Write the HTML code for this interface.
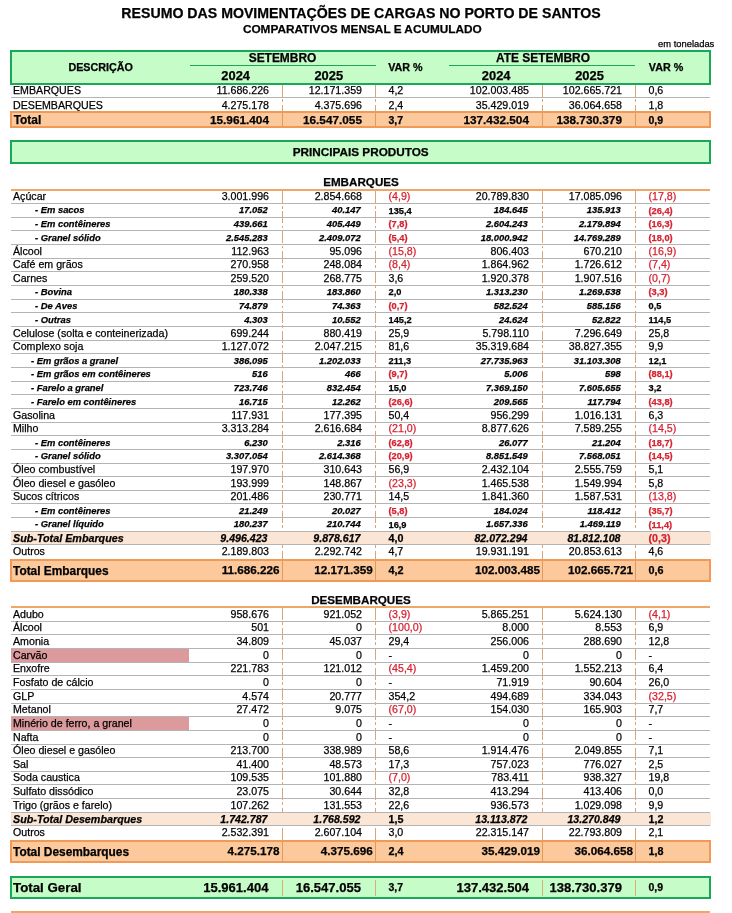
<!DOCTYPE html>
<html><head><meta charset="utf-8"><title>Resumo das Movimentações de Cargas no Porto de Santos</title>
<style>
html,body{margin:0;padding:0;background:#fff;}
body{width:732px;height:913px;position:relative;overflow:hidden;font-family:"Liberation Sans",sans-serif;color:#000;}
#pg{position:absolute;left:0;top:0;width:732px;height:913px;will-change:transform;opacity:0.999;}
.t{position:absolute;white-space:nowrap;-webkit-text-stroke:0.25px;}

.hl{position:absolute;}
.vs{position:absolute;width:1px;background:repeating-linear-gradient(to bottom,#dba57c 0,#dba57c 12px,transparent 12px,transparent 14.5px,#dba57c 14.5px,#dba57c 17.5px,transparent 17.5px,transparent 20px);}
.vs.vo{background:#e2995c;}
.vs.vg{background:#d6b070;}
.box{position:absolute;box-sizing:border-box;}
.box.green{border:2px solid #1aa858;background:#c6fcc8;}
.box.orange{border:2px solid #f29a55;background:#fcc99c;}
.gl{position:absolute;height:1px;background:#1aa858;}
.pink{position:absolute;background:#dc9a9c;}
.stbg{position:absolute;background:#fbe6d6;}
.red{color:#d62230;}
.t1{font-weight:bold;font-size:14.15px;}
.t2{font-weight:bold;font-size:11.8px;}
.et{font-size:9.4px;}
.hd{font-weight:bold;font-size:10.75px;}
.hs{font-weight:bold;font-size:11.95px;}
.hy{font-weight:bold;font-size:12.9px;}
.pp{font-weight:bold;font-size:11.76px;}
.sec{font-weight:bold;font-size:11.65px;}
.m{font-size:10.65px;}
.s{font-weight:bold;font-style:italic;font-size:9.4px;}
.sv{font-weight:bold;font-size:9.25px;}
.st{font-weight:bold;font-style:italic;font-size:10.6px;}
.stl{font-weight:bold;font-style:italic;font-size:10.75px;}
.stv{font-weight:bold;font-size:10.75px;}
.tot{font-weight:bold;font-size:11.7px;}
.totv{font-weight:bold;font-size:10.8px;}
.tg{font-weight:bold;font-size:13.05px;}
.tgv{font-weight:bold;font-size:10.5px;}
.totl{font-weight:bold;font-size:11.9px;}
.tgl{font-weight:bold;font-size:13.3px;}
.tot0l{font-weight:bold;font-size:11.9px;}
.tot0{font-weight:bold;font-size:11.8px;}
.tot0v{font-weight:bold;font-size:10.5px;}
</style></head>
<body>
<div id="pg">
<div class="t t1" style="left:211.00px;width:300px;text-align:center;top:4.00px;height:18.00px;line-height:18.00px;width:700px;left:11.00px;">RESUMO DAS MOVIMENTAÇÕES DE CARGAS NO PORTO DE SANTOS</div>
<div class="t t2" style="left:212.30px;width:300px;text-align:center;top:21.70px;height:14.00px;line-height:14.00px;width:700px;left:12.30px;">COMPARATIVOS MENSAL E ACUMULADO</div>
<div class="t et" style="right:17.70px;top:39.00px;height:10.00px;line-height:10.00px;">em toneladas</div>
<div class="box green" style="left:10px;top:50.00px;width:701px;height:34.50px"></div>
<div class="t hd" style="left:-49.30px;width:300px;text-align:center;top:50.00px;height:34.50px;line-height:34.50px;">DESCRIÇÃO</div>
<div class="t hs" style="left:132.50px;width:300px;text-align:center;top:50.70px;height:15.00px;line-height:15.00px;">SETEMBRO</div>
<div class="t hs" style="left:393.00px;width:300px;text-align:center;top:50.70px;height:15.00px;line-height:15.00px;">ATE SETEMBRO</div>
<div class="t hy" style="left:85.70px;width:300px;text-align:center;top:67.70px;height:15.00px;line-height:15.00px;">2024</div>
<div class="t hy" style="left:178.80px;width:300px;text-align:center;top:67.70px;height:15.00px;line-height:15.00px;">2025</div>
<div class="t hy" style="left:346.20px;width:300px;text-align:center;top:67.70px;height:15.00px;line-height:15.00px;">2024</div>
<div class="t hy" style="left:439.50px;width:300px;text-align:center;top:67.70px;height:15.00px;line-height:15.00px;">2025</div>
<div class="t hd" style="left:255.40px;width:300px;text-align:center;top:50.00px;height:34.50px;line-height:34.50px;">VAR %</div>
<div class="t hd" style="left:516.00px;width:300px;text-align:center;top:50.00px;height:34.50px;line-height:34.50px;">VAR %</div>
<div class="gl" style="left:189.5px;top:65.2px;width:186.0px"></div>
<div class="gl" style="left:449px;top:65.2px;width:186px"></div>
<div class="vs " style="left:281.5px;top:84.50px;height:26.00px"></div>
<div class="vs " style="left:374.6px;top:84.50px;height:26.00px"></div>
<div class="vs " style="left:542.3px;top:84.50px;height:26.00px"></div>
<div class="vs " style="left:634.7px;top:84.50px;height:26.00px"></div>
<div class="t m" style="left:13.0px;top:83.65px;height:13.50px;line-height:13.50px;">EMBARQUES</div>
<div class="t m" style="right:463.00px;top:83.65px;height:13.50px;line-height:13.50px;">11.686.226</div>
<div class="t m" style="right:370.00px;top:83.65px;height:13.50px;line-height:13.50px;">12.171.359</div>
<div class="t m" style="right:203.00px;top:83.65px;height:13.50px;line-height:13.50px;">102.003.485</div>
<div class="t m" style="right:110.00px;top:83.65px;height:13.50px;line-height:13.50px;">102.665.721</div>
<div class="t m" style="left:388.5px;top:83.65px;height:13.50px;line-height:13.50px;">4,2</div>
<div class="t m" style="left:648.5px;top:83.65px;height:13.50px;line-height:13.50px;">0,6</div>
<div class="hl" style="left:11px;top:97.00px;width:699px;height:1px;background:#b4b4b4"></div>
<div class="t m" style="left:13.0px;top:98.95px;height:13.50px;line-height:13.50px;">DESEMBARQUES</div>
<div class="t m" style="right:463.00px;top:98.95px;height:13.50px;line-height:13.50px;">4.275.178</div>
<div class="t m" style="right:370.00px;top:98.95px;height:13.50px;line-height:13.50px;">4.375.696</div>
<div class="t m" style="right:203.00px;top:98.95px;height:13.50px;line-height:13.50px;">35.429.019</div>
<div class="t m" style="right:110.00px;top:98.95px;height:13.50px;line-height:13.50px;">36.064.658</div>
<div class="t m" style="left:388.5px;top:98.95px;height:13.50px;line-height:13.50px;">2,4</div>
<div class="t m" style="left:648.5px;top:98.95px;height:13.50px;line-height:13.50px;">1,8</div>
<div class="box orange" style="left:10px;top:110.50px;width:701px;height:17.50px"></div>
<div class="t tot0l" style="left:13.7px;top:111.60px;height:17.50px;line-height:17.50px;">Total</div>
<div class="t tot0" style="right:463.00px;top:112.00px;height:17.50px;line-height:17.50px;">15.961.404</div>
<div class="t tot0" style="right:370.00px;top:112.00px;height:17.50px;line-height:17.50px;">16.547.055</div>
<div class="t tot0" style="right:203.00px;top:112.00px;height:17.50px;line-height:17.50px;">137.432.504</div>
<div class="t tot0" style="right:110.00px;top:112.00px;height:17.50px;line-height:17.50px;">138.730.379</div>
<div class="t tot0v" style="left:388.5px;top:111.70px;height:17.50px;line-height:17.50px;">3,7</div>
<div class="t tot0v" style="left:648.5px;top:111.70px;height:17.50px;line-height:17.50px;">0,9</div>
<div class="vs vo" style="left:281.5px;top:112.50px;height:13.50px"></div>
<div class="vs vo" style="left:374.6px;top:112.50px;height:13.50px"></div>
<div class="vs vo" style="left:542.3px;top:112.50px;height:13.50px"></div>
<div class="vs vo" style="left:634.7px;top:112.50px;height:13.50px"></div>
<div class="box green" style="left:10px;top:140.00px;width:701px;height:23.50px"></div>
<div class="t pp" style="left:210.70px;width:300px;text-align:center;top:140.00px;height:23.50px;line-height:23.50px;">PRINCIPAIS PRODUTOS</div>
<div class="t sec" style="left:211.00px;width:300px;text-align:center;top:175.10px;height:14.00px;line-height:14.00px;">EMBARQUES</div>
<div class="hl" style="left:11px;top:189.00px;width:699px;height:2px;background:#f0a664"></div>
<div class="vs " style="left:281.5px;top:191.00px;height:367.55px"></div>
<div class="vs " style="left:374.6px;top:191.00px;height:367.55px"></div>
<div class="vs " style="left:542.3px;top:191.00px;height:367.55px"></div>
<div class="vs " style="left:634.7px;top:191.00px;height:367.55px"></div>
<div class="t m" style="left:13.0px;top:190.15px;height:13.65px;line-height:13.65px;">Açúcar</div>
<div class="t m" style="right:463.00px;top:190.15px;height:13.65px;line-height:13.65px;">3.001.996</div>
<div class="t m" style="right:370.00px;top:190.15px;height:13.65px;line-height:13.65px;">2.854.668</div>
<div class="t m" style="right:203.00px;top:190.15px;height:13.65px;line-height:13.65px;">20.789.830</div>
<div class="t m" style="right:110.00px;top:190.15px;height:13.65px;line-height:13.65px;">17.085.096</div>
<div class="t m red" style="left:388.5px;top:190.15px;height:13.65px;line-height:13.65px;">(4,9)</div>
<div class="t m red" style="left:648.5px;top:190.15px;height:13.65px;line-height:13.65px;">(17,8)</div>
<div class="hl" style="left:11px;top:203.15px;width:699px;height:1px;background:#b4b4b4"></div>
<div class="t s" style="left:35px;top:203.45px;height:13.65px;line-height:13.65px;">-&nbsp;Em sacos</div>
<div class="t s" style="right:464.30px;top:203.45px;height:13.65px;line-height:13.65px;">17.052</div>
<div class="t s" style="right:371.30px;top:203.45px;height:13.65px;line-height:13.65px;">40.147</div>
<div class="t s" style="right:204.30px;top:203.45px;height:13.65px;line-height:13.65px;">184.645</div>
<div class="t s" style="right:111.30px;top:203.45px;height:13.65px;line-height:13.65px;">135.913</div>
<div class="t sv" style="left:388.5px;top:204.55px;height:13.65px;line-height:13.65px;">135,4</div>
<div class="t sv red" style="left:648.5px;top:204.55px;height:13.65px;line-height:13.65px;">(26,4)</div>
<div class="hl" style="left:11px;top:216.80px;width:699px;height:1px;background:#b4b4b4"></div>
<div class="t s" style="left:35px;top:217.10px;height:13.65px;line-height:13.65px;">-&nbsp;Em contêineres</div>
<div class="t s" style="right:464.30px;top:217.10px;height:13.65px;line-height:13.65px;">439.661</div>
<div class="t s" style="right:371.30px;top:217.10px;height:13.65px;line-height:13.65px;">405.449</div>
<div class="t s" style="right:204.30px;top:217.10px;height:13.65px;line-height:13.65px;">2.604.243</div>
<div class="t s" style="right:111.30px;top:217.10px;height:13.65px;line-height:13.65px;">2.179.894</div>
<div class="t sv red" style="left:388.5px;top:218.20px;height:13.65px;line-height:13.65px;">(7,8)</div>
<div class="t sv red" style="left:648.5px;top:218.20px;height:13.65px;line-height:13.65px;">(16,3)</div>
<div class="hl" style="left:11px;top:230.45px;width:699px;height:1px;background:#b4b4b4"></div>
<div class="t s" style="left:35px;top:230.75px;height:13.65px;line-height:13.65px;">-&nbsp;Granel sólido</div>
<div class="t s" style="right:464.30px;top:230.75px;height:13.65px;line-height:13.65px;">2.545.283</div>
<div class="t s" style="right:371.30px;top:230.75px;height:13.65px;line-height:13.65px;">2.409.072</div>
<div class="t s" style="right:204.30px;top:230.75px;height:13.65px;line-height:13.65px;">18.000.942</div>
<div class="t s" style="right:111.30px;top:230.75px;height:13.65px;line-height:13.65px;">14.769.289</div>
<div class="t sv red" style="left:388.5px;top:231.85px;height:13.65px;line-height:13.65px;">(5,4)</div>
<div class="t sv red" style="left:648.5px;top:231.85px;height:13.65px;line-height:13.65px;">(18,0)</div>
<div class="hl" style="left:11px;top:244.10px;width:699px;height:1px;background:#b4b4b4"></div>
<div class="t m" style="left:13.0px;top:244.75px;height:13.65px;line-height:13.65px;">Álcool</div>
<div class="t m" style="right:463.00px;top:244.75px;height:13.65px;line-height:13.65px;">112.963</div>
<div class="t m" style="right:370.00px;top:244.75px;height:13.65px;line-height:13.65px;">95.096</div>
<div class="t m" style="right:203.00px;top:244.75px;height:13.65px;line-height:13.65px;">806.403</div>
<div class="t m" style="right:110.00px;top:244.75px;height:13.65px;line-height:13.65px;">670.210</div>
<div class="t m red" style="left:388.5px;top:244.75px;height:13.65px;line-height:13.65px;">(15,8)</div>
<div class="t m red" style="left:648.5px;top:244.75px;height:13.65px;line-height:13.65px;">(16,9)</div>
<div class="hl" style="left:11px;top:257.75px;width:699px;height:1px;background:#b4b4b4"></div>
<div class="t m" style="left:13.0px;top:258.40px;height:13.65px;line-height:13.65px;">Café em grãos</div>
<div class="t m" style="right:463.00px;top:258.40px;height:13.65px;line-height:13.65px;">270.958</div>
<div class="t m" style="right:370.00px;top:258.40px;height:13.65px;line-height:13.65px;">248.084</div>
<div class="t m" style="right:203.00px;top:258.40px;height:13.65px;line-height:13.65px;">1.864.962</div>
<div class="t m" style="right:110.00px;top:258.40px;height:13.65px;line-height:13.65px;">1.726.612</div>
<div class="t m red" style="left:388.5px;top:258.40px;height:13.65px;line-height:13.65px;">(8,4)</div>
<div class="t m red" style="left:648.5px;top:258.40px;height:13.65px;line-height:13.65px;">(7,4)</div>
<div class="hl" style="left:11px;top:271.40px;width:699px;height:1px;background:#b4b4b4"></div>
<div class="t m" style="left:13.0px;top:272.05px;height:13.65px;line-height:13.65px;">Carnes</div>
<div class="t m" style="right:463.00px;top:272.05px;height:13.65px;line-height:13.65px;">259.520</div>
<div class="t m" style="right:370.00px;top:272.05px;height:13.65px;line-height:13.65px;">268.775</div>
<div class="t m" style="right:203.00px;top:272.05px;height:13.65px;line-height:13.65px;">1.920.378</div>
<div class="t m" style="right:110.00px;top:272.05px;height:13.65px;line-height:13.65px;">1.907.516</div>
<div class="t m" style="left:388.5px;top:272.05px;height:13.65px;line-height:13.65px;">3,6</div>
<div class="t m red" style="left:648.5px;top:272.05px;height:13.65px;line-height:13.65px;">(0,7)</div>
<div class="hl" style="left:11px;top:285.05px;width:699px;height:1px;background:#b4b4b4"></div>
<div class="t s" style="left:35px;top:285.35px;height:13.65px;line-height:13.65px;">-&nbsp;Bovina</div>
<div class="t s" style="right:464.30px;top:285.35px;height:13.65px;line-height:13.65px;">180.338</div>
<div class="t s" style="right:371.30px;top:285.35px;height:13.65px;line-height:13.65px;">183.860</div>
<div class="t s" style="right:204.30px;top:285.35px;height:13.65px;line-height:13.65px;">1.313.230</div>
<div class="t s" style="right:111.30px;top:285.35px;height:13.65px;line-height:13.65px;">1.269.538</div>
<div class="t sv" style="left:388.5px;top:286.45px;height:13.65px;line-height:13.65px;">2,0</div>
<div class="t sv red" style="left:648.5px;top:286.45px;height:13.65px;line-height:13.65px;">(3,3)</div>
<div class="hl" style="left:11px;top:298.70px;width:699px;height:1px;background:#b4b4b4"></div>
<div class="t s" style="left:35px;top:299.00px;height:13.65px;line-height:13.65px;">-&nbsp;De Aves</div>
<div class="t s" style="right:464.30px;top:299.00px;height:13.65px;line-height:13.65px;">74.879</div>
<div class="t s" style="right:371.30px;top:299.00px;height:13.65px;line-height:13.65px;">74.363</div>
<div class="t s" style="right:204.30px;top:299.00px;height:13.65px;line-height:13.65px;">582.524</div>
<div class="t s" style="right:111.30px;top:299.00px;height:13.65px;line-height:13.65px;">585.156</div>
<div class="t sv red" style="left:388.5px;top:300.10px;height:13.65px;line-height:13.65px;">(0,7)</div>
<div class="t sv" style="left:648.5px;top:300.10px;height:13.65px;line-height:13.65px;">0,5</div>
<div class="hl" style="left:11px;top:312.35px;width:699px;height:1px;background:#b4b4b4"></div>
<div class="t s" style="left:35px;top:312.65px;height:13.65px;line-height:13.65px;">-&nbsp;Outras</div>
<div class="t s" style="right:464.30px;top:312.65px;height:13.65px;line-height:13.65px;">4.303</div>
<div class="t s" style="right:371.30px;top:312.65px;height:13.65px;line-height:13.65px;">10.552</div>
<div class="t s" style="right:204.30px;top:312.65px;height:13.65px;line-height:13.65px;">24.624</div>
<div class="t s" style="right:111.30px;top:312.65px;height:13.65px;line-height:13.65px;">52.822</div>
<div class="t sv" style="left:388.5px;top:313.75px;height:13.65px;line-height:13.65px;">145,2</div>
<div class="t sv" style="left:648.5px;top:313.75px;height:13.65px;line-height:13.65px;">114,5</div>
<div class="hl" style="left:11px;top:326.00px;width:699px;height:1px;background:#b4b4b4"></div>
<div class="t m" style="left:13.0px;top:326.65px;height:13.65px;line-height:13.65px;">Celulose (solta e conteinerizada)</div>
<div class="t m" style="right:463.00px;top:326.65px;height:13.65px;line-height:13.65px;">699.244</div>
<div class="t m" style="right:370.00px;top:326.65px;height:13.65px;line-height:13.65px;">880.419</div>
<div class="t m" style="right:203.00px;top:326.65px;height:13.65px;line-height:13.65px;">5.798.110</div>
<div class="t m" style="right:110.00px;top:326.65px;height:13.65px;line-height:13.65px;">7.296.649</div>
<div class="t m" style="left:388.5px;top:326.65px;height:13.65px;line-height:13.65px;">25,9</div>
<div class="t m" style="left:648.5px;top:326.65px;height:13.65px;line-height:13.65px;">25,8</div>
<div class="hl" style="left:11px;top:339.65px;width:699px;height:1px;background:#b4b4b4"></div>
<div class="t m" style="left:13.0px;top:340.30px;height:13.65px;line-height:13.65px;">Complexo soja</div>
<div class="t m" style="right:463.00px;top:340.30px;height:13.65px;line-height:13.65px;">1.127.072</div>
<div class="t m" style="right:370.00px;top:340.30px;height:13.65px;line-height:13.65px;">2.047.215</div>
<div class="t m" style="right:203.00px;top:340.30px;height:13.65px;line-height:13.65px;">35.319.684</div>
<div class="t m" style="right:110.00px;top:340.30px;height:13.65px;line-height:13.65px;">38.827.355</div>
<div class="t m" style="left:388.5px;top:340.30px;height:13.65px;line-height:13.65px;">81,6</div>
<div class="t m" style="left:648.5px;top:340.30px;height:13.65px;line-height:13.65px;">9,9</div>
<div class="hl" style="left:11px;top:353.30px;width:699px;height:1px;background:#b4b4b4"></div>
<div class="t s" style="left:31px;top:353.60px;height:13.65px;line-height:13.65px;">-&nbsp;Em grãos a granel</div>
<div class="t s" style="right:464.30px;top:353.60px;height:13.65px;line-height:13.65px;">386.095</div>
<div class="t s" style="right:371.30px;top:353.60px;height:13.65px;line-height:13.65px;">1.202.033</div>
<div class="t s" style="right:204.30px;top:353.60px;height:13.65px;line-height:13.65px;">27.735.963</div>
<div class="t s" style="right:111.30px;top:353.60px;height:13.65px;line-height:13.65px;">31.103.308</div>
<div class="t sv" style="left:388.5px;top:354.70px;height:13.65px;line-height:13.65px;">211,3</div>
<div class="t sv" style="left:648.5px;top:354.70px;height:13.65px;line-height:13.65px;">12,1</div>
<div class="hl" style="left:11px;top:366.95px;width:699px;height:1px;background:#b4b4b4"></div>
<div class="t s" style="left:31px;top:367.25px;height:13.65px;line-height:13.65px;">-&nbsp;Em grãos em contêineres</div>
<div class="t s" style="right:464.30px;top:367.25px;height:13.65px;line-height:13.65px;">516</div>
<div class="t s" style="right:371.30px;top:367.25px;height:13.65px;line-height:13.65px;">466</div>
<div class="t s" style="right:204.30px;top:367.25px;height:13.65px;line-height:13.65px;">5.006</div>
<div class="t s" style="right:111.30px;top:367.25px;height:13.65px;line-height:13.65px;">598</div>
<div class="t sv red" style="left:388.5px;top:368.35px;height:13.65px;line-height:13.65px;">(9,7)</div>
<div class="t sv red" style="left:648.5px;top:368.35px;height:13.65px;line-height:13.65px;">(88,1)</div>
<div class="hl" style="left:11px;top:380.60px;width:699px;height:1px;background:#b4b4b4"></div>
<div class="t s" style="left:31px;top:380.90px;height:13.65px;line-height:13.65px;">-&nbsp;Farelo a granel</div>
<div class="t s" style="right:464.30px;top:380.90px;height:13.65px;line-height:13.65px;">723.746</div>
<div class="t s" style="right:371.30px;top:380.90px;height:13.65px;line-height:13.65px;">832.454</div>
<div class="t s" style="right:204.30px;top:380.90px;height:13.65px;line-height:13.65px;">7.369.150</div>
<div class="t s" style="right:111.30px;top:380.90px;height:13.65px;line-height:13.65px;">7.605.655</div>
<div class="t sv" style="left:388.5px;top:382.00px;height:13.65px;line-height:13.65px;">15,0</div>
<div class="t sv" style="left:648.5px;top:382.00px;height:13.65px;line-height:13.65px;">3,2</div>
<div class="hl" style="left:11px;top:394.25px;width:699px;height:1px;background:#b4b4b4"></div>
<div class="t s" style="left:31px;top:394.55px;height:13.65px;line-height:13.65px;">-&nbsp;Farelo em contêineres</div>
<div class="t s" style="right:464.30px;top:394.55px;height:13.65px;line-height:13.65px;">16.715</div>
<div class="t s" style="right:371.30px;top:394.55px;height:13.65px;line-height:13.65px;">12.262</div>
<div class="t s" style="right:204.30px;top:394.55px;height:13.65px;line-height:13.65px;">209.565</div>
<div class="t s" style="right:111.30px;top:394.55px;height:13.65px;line-height:13.65px;">117.794</div>
<div class="t sv red" style="left:388.5px;top:395.65px;height:13.65px;line-height:13.65px;">(26,6)</div>
<div class="t sv red" style="left:648.5px;top:395.65px;height:13.65px;line-height:13.65px;">(43,8)</div>
<div class="hl" style="left:11px;top:407.90px;width:699px;height:1px;background:#b4b4b4"></div>
<div class="t m" style="left:13.0px;top:408.55px;height:13.65px;line-height:13.65px;">Gasolina</div>
<div class="t m" style="right:463.00px;top:408.55px;height:13.65px;line-height:13.65px;">117.931</div>
<div class="t m" style="right:370.00px;top:408.55px;height:13.65px;line-height:13.65px;">177.395</div>
<div class="t m" style="right:203.00px;top:408.55px;height:13.65px;line-height:13.65px;">956.299</div>
<div class="t m" style="right:110.00px;top:408.55px;height:13.65px;line-height:13.65px;">1.016.131</div>
<div class="t m" style="left:388.5px;top:408.55px;height:13.65px;line-height:13.65px;">50,4</div>
<div class="t m" style="left:648.5px;top:408.55px;height:13.65px;line-height:13.65px;">6,3</div>
<div class="hl" style="left:11px;top:421.55px;width:699px;height:1px;background:#b4b4b4"></div>
<div class="t m" style="left:13.0px;top:422.20px;height:13.65px;line-height:13.65px;">Milho</div>
<div class="t m" style="right:463.00px;top:422.20px;height:13.65px;line-height:13.65px;">3.313.284</div>
<div class="t m" style="right:370.00px;top:422.20px;height:13.65px;line-height:13.65px;">2.616.684</div>
<div class="t m" style="right:203.00px;top:422.20px;height:13.65px;line-height:13.65px;">8.877.626</div>
<div class="t m" style="right:110.00px;top:422.20px;height:13.65px;line-height:13.65px;">7.589.255</div>
<div class="t m red" style="left:388.5px;top:422.20px;height:13.65px;line-height:13.65px;">(21,0)</div>
<div class="t m red" style="left:648.5px;top:422.20px;height:13.65px;line-height:13.65px;">(14,5)</div>
<div class="hl" style="left:11px;top:435.20px;width:699px;height:1px;background:#b4b4b4"></div>
<div class="t s" style="left:35px;top:435.50px;height:13.65px;line-height:13.65px;">-&nbsp;Em contêineres</div>
<div class="t s" style="right:464.30px;top:435.50px;height:13.65px;line-height:13.65px;">6.230</div>
<div class="t s" style="right:371.30px;top:435.50px;height:13.65px;line-height:13.65px;">2.316</div>
<div class="t s" style="right:204.30px;top:435.50px;height:13.65px;line-height:13.65px;">26.077</div>
<div class="t s" style="right:111.30px;top:435.50px;height:13.65px;line-height:13.65px;">21.204</div>
<div class="t sv red" style="left:388.5px;top:436.60px;height:13.65px;line-height:13.65px;">(62,8)</div>
<div class="t sv red" style="left:648.5px;top:436.60px;height:13.65px;line-height:13.65px;">(18,7)</div>
<div class="hl" style="left:11px;top:448.85px;width:699px;height:1px;background:#b4b4b4"></div>
<div class="t s" style="left:35px;top:449.15px;height:13.65px;line-height:13.65px;">-&nbsp;Granel sólido</div>
<div class="t s" style="right:464.30px;top:449.15px;height:13.65px;line-height:13.65px;">3.307.054</div>
<div class="t s" style="right:371.30px;top:449.15px;height:13.65px;line-height:13.65px;">2.614.368</div>
<div class="t s" style="right:204.30px;top:449.15px;height:13.65px;line-height:13.65px;">8.851.549</div>
<div class="t s" style="right:111.30px;top:449.15px;height:13.65px;line-height:13.65px;">7.568.051</div>
<div class="t sv red" style="left:388.5px;top:450.25px;height:13.65px;line-height:13.65px;">(20,9)</div>
<div class="t sv red" style="left:648.5px;top:450.25px;height:13.65px;line-height:13.65px;">(14,5)</div>
<div class="hl" style="left:11px;top:462.50px;width:699px;height:1px;background:#b4b4b4"></div>
<div class="t m" style="left:13.0px;top:463.15px;height:13.65px;line-height:13.65px;">Óleo combustível</div>
<div class="t m" style="right:463.00px;top:463.15px;height:13.65px;line-height:13.65px;">197.970</div>
<div class="t m" style="right:370.00px;top:463.15px;height:13.65px;line-height:13.65px;">310.643</div>
<div class="t m" style="right:203.00px;top:463.15px;height:13.65px;line-height:13.65px;">2.432.104</div>
<div class="t m" style="right:110.00px;top:463.15px;height:13.65px;line-height:13.65px;">2.555.759</div>
<div class="t m" style="left:388.5px;top:463.15px;height:13.65px;line-height:13.65px;">56,9</div>
<div class="t m" style="left:648.5px;top:463.15px;height:13.65px;line-height:13.65px;">5,1</div>
<div class="hl" style="left:11px;top:476.15px;width:699px;height:1px;background:#b4b4b4"></div>
<div class="t m" style="left:13.0px;top:476.80px;height:13.65px;line-height:13.65px;">Óleo diesel e gasóleo</div>
<div class="t m" style="right:463.00px;top:476.80px;height:13.65px;line-height:13.65px;">193.999</div>
<div class="t m" style="right:370.00px;top:476.80px;height:13.65px;line-height:13.65px;">148.867</div>
<div class="t m" style="right:203.00px;top:476.80px;height:13.65px;line-height:13.65px;">1.465.538</div>
<div class="t m" style="right:110.00px;top:476.80px;height:13.65px;line-height:13.65px;">1.549.994</div>
<div class="t m red" style="left:388.5px;top:476.80px;height:13.65px;line-height:13.65px;">(23,3)</div>
<div class="t m" style="left:648.5px;top:476.80px;height:13.65px;line-height:13.65px;">5,8</div>
<div class="hl" style="left:11px;top:489.80px;width:699px;height:1px;background:#b4b4b4"></div>
<div class="t m" style="left:13.0px;top:490.45px;height:13.65px;line-height:13.65px;">Sucos cítricos</div>
<div class="t m" style="right:463.00px;top:490.45px;height:13.65px;line-height:13.65px;">201.486</div>
<div class="t m" style="right:370.00px;top:490.45px;height:13.65px;line-height:13.65px;">230.771</div>
<div class="t m" style="right:203.00px;top:490.45px;height:13.65px;line-height:13.65px;">1.841.360</div>
<div class="t m" style="right:110.00px;top:490.45px;height:13.65px;line-height:13.65px;">1.587.531</div>
<div class="t m" style="left:388.5px;top:490.45px;height:13.65px;line-height:13.65px;">14,5</div>
<div class="t m red" style="left:648.5px;top:490.45px;height:13.65px;line-height:13.65px;">(13,8)</div>
<div class="hl" style="left:11px;top:503.45px;width:699px;height:1px;background:#b4b4b4"></div>
<div class="t s" style="left:35px;top:503.75px;height:13.65px;line-height:13.65px;">-&nbsp;Em contêineres</div>
<div class="t s" style="right:464.30px;top:503.75px;height:13.65px;line-height:13.65px;">21.249</div>
<div class="t s" style="right:371.30px;top:503.75px;height:13.65px;line-height:13.65px;">20.027</div>
<div class="t s" style="right:204.30px;top:503.75px;height:13.65px;line-height:13.65px;">184.024</div>
<div class="t s" style="right:111.30px;top:503.75px;height:13.65px;line-height:13.65px;">118.412</div>
<div class="t sv red" style="left:388.5px;top:504.85px;height:13.65px;line-height:13.65px;">(5,8)</div>
<div class="t sv red" style="left:648.5px;top:504.85px;height:13.65px;line-height:13.65px;">(35,7)</div>
<div class="hl" style="left:11px;top:517.10px;width:699px;height:1px;background:#b4b4b4"></div>
<div class="t s" style="left:35px;top:517.40px;height:13.65px;line-height:13.65px;">-&nbsp;Granel líquido</div>
<div class="t s" style="right:464.30px;top:517.40px;height:13.65px;line-height:13.65px;">180.237</div>
<div class="t s" style="right:371.30px;top:517.40px;height:13.65px;line-height:13.65px;">210.744</div>
<div class="t s" style="right:204.30px;top:517.40px;height:13.65px;line-height:13.65px;">1.657.336</div>
<div class="t s" style="right:111.30px;top:517.40px;height:13.65px;line-height:13.65px;">1.469.119</div>
<div class="t sv" style="left:388.5px;top:518.50px;height:13.65px;line-height:13.65px;">16,9</div>
<div class="t sv red" style="left:648.5px;top:518.50px;height:13.65px;line-height:13.65px;">(11,4)</div>
<div class="hl" style="left:11px;top:530.75px;width:699px;height:1px;background:#b4b4b4"></div>
<div class="stbg" style="left:11px;top:532.25px;width:700px;height:12.65px"></div>
<div class="t stl" style="left:13.0px;top:532.15px;height:13.65px;line-height:13.65px;">Sub-Total Embarques</div>
<div class="t st" style="right:464.50px;top:532.15px;height:13.65px;line-height:13.65px;">9.496.423</div>
<div class="t st" style="right:371.50px;top:532.15px;height:13.65px;line-height:13.65px;">9.878.617</div>
<div class="t st" style="right:204.50px;top:532.15px;height:13.65px;line-height:13.65px;">82.072.294</div>
<div class="t st" style="right:111.50px;top:532.15px;height:13.65px;line-height:13.65px;">81.812.108</div>
<div class="t stv" style="left:388.5px;top:532.15px;height:13.65px;line-height:13.65px;">4,0</div>
<div class="t stv red" style="left:648.5px;top:532.15px;height:13.65px;line-height:13.65px;">(0,3)</div>
<div class="hl" style="left:11px;top:544.40px;width:699px;height:1px;background:#b4b4b4"></div>
<div class="t m" style="left:13.0px;top:545.05px;height:13.65px;line-height:13.65px;">Outros</div>
<div class="t m" style="right:463.00px;top:545.05px;height:13.65px;line-height:13.65px;">2.189.803</div>
<div class="t m" style="right:370.00px;top:545.05px;height:13.65px;line-height:13.65px;">2.292.742</div>
<div class="t m" style="right:203.00px;top:545.05px;height:13.65px;line-height:13.65px;">19.931.191</div>
<div class="t m" style="right:110.00px;top:545.05px;height:13.65px;line-height:13.65px;">20.853.613</div>
<div class="t m" style="left:388.5px;top:545.05px;height:13.65px;line-height:13.65px;">4,7</div>
<div class="t m" style="left:648.5px;top:545.05px;height:13.65px;line-height:13.65px;">4,6</div>
<div class="box orange" style="left:10px;top:558.55px;width:701px;height:23.50px"></div>
<div class="t totl" style="left:13.0px;top:559.85px;height:23.50px;line-height:23.50px;">Total Embarques</div>
<div class="t tot" style="right:452.50px;top:558.05px;height:23.50px;line-height:23.50px;">11.686.226</div>
<div class="t tot" style="right:359.20px;top:558.05px;height:23.50px;line-height:23.50px;">12.171.359</div>
<div class="t tot" style="right:192.10px;top:558.05px;height:23.50px;line-height:23.50px;">102.003.485</div>
<div class="t tot" style="right:99.00px;top:558.05px;height:23.50px;line-height:23.50px;">102.665.721</div>
<div class="t totv" style="left:388.5px;top:559.05px;height:23.50px;line-height:23.50px;">4,2</div>
<div class="t totv" style="left:648.5px;top:559.05px;height:23.50px;line-height:23.50px;">0,6</div>
<div class="vs vo" style="left:281.5px;top:560.55px;height:19.50px"></div>
<div class="vs vo" style="left:374.6px;top:560.55px;height:19.50px"></div>
<div class="vs vo" style="left:542.3px;top:560.55px;height:19.50px"></div>
<div class="vs vo" style="left:634.7px;top:560.55px;height:19.50px"></div>
<div class="t sec" style="left:211.00px;width:300px;text-align:center;top:592.50px;height:14.00px;line-height:14.00px;">DESEMBARQUES</div>
<div class="hl" style="left:11px;top:606.00px;width:699px;height:2px;background:#f0a664"></div>
<div class="vs " style="left:281.5px;top:608.00px;height:231.55px"></div>
<div class="vs " style="left:374.6px;top:608.00px;height:231.55px"></div>
<div class="vs " style="left:542.3px;top:608.00px;height:231.55px"></div>
<div class="vs " style="left:634.7px;top:608.00px;height:231.55px"></div>
<div class="t m" style="left:13.0px;top:607.65px;height:13.65px;line-height:13.65px;">Adubo</div>
<div class="t m" style="right:463.00px;top:607.65px;height:13.65px;line-height:13.65px;">958.676</div>
<div class="t m" style="right:370.00px;top:607.65px;height:13.65px;line-height:13.65px;">921.052</div>
<div class="t m" style="right:203.00px;top:607.65px;height:13.65px;line-height:13.65px;">5.865.251</div>
<div class="t m" style="right:110.00px;top:607.65px;height:13.65px;line-height:13.65px;">5.624.130</div>
<div class="t m red" style="left:388.5px;top:607.65px;height:13.65px;line-height:13.65px;">(3,9)</div>
<div class="t m red" style="left:648.5px;top:607.65px;height:13.65px;line-height:13.65px;">(4,1)</div>
<div class="hl" style="left:11px;top:620.65px;width:699px;height:1px;background:#b4b4b4"></div>
<div class="t m" style="left:13.0px;top:621.30px;height:13.65px;line-height:13.65px;">Álcool</div>
<div class="t m" style="right:463.00px;top:621.30px;height:13.65px;line-height:13.65px;">501</div>
<div class="t m" style="right:370.00px;top:621.30px;height:13.65px;line-height:13.65px;">0</div>
<div class="t m" style="right:203.00px;top:621.30px;height:13.65px;line-height:13.65px;">8.000</div>
<div class="t m" style="right:110.00px;top:621.30px;height:13.65px;line-height:13.65px;">8.553</div>
<div class="t m red" style="left:388.5px;top:621.30px;height:13.65px;line-height:13.65px;">(100,0)</div>
<div class="t m" style="left:648.5px;top:621.30px;height:13.65px;line-height:13.65px;">6,9</div>
<div class="hl" style="left:11px;top:634.30px;width:699px;height:1px;background:#b4b4b4"></div>
<div class="t m" style="left:13.0px;top:634.95px;height:13.65px;line-height:13.65px;">Amonia</div>
<div class="t m" style="right:463.00px;top:634.95px;height:13.65px;line-height:13.65px;">34.809</div>
<div class="t m" style="right:370.00px;top:634.95px;height:13.65px;line-height:13.65px;">45.037</div>
<div class="t m" style="right:203.00px;top:634.95px;height:13.65px;line-height:13.65px;">256.006</div>
<div class="t m" style="right:110.00px;top:634.95px;height:13.65px;line-height:13.65px;">288.690</div>
<div class="t m" style="left:388.5px;top:634.95px;height:13.65px;line-height:13.65px;">29,4</div>
<div class="t m" style="left:648.5px;top:634.95px;height:13.65px;line-height:13.65px;">12,8</div>
<div class="hl" style="left:11px;top:647.95px;width:699px;height:1px;background:#b4b4b4"></div>
<div class="pink" style="left:11px;top:648.95px;width:178px;height:13.15px"></div>
<div class="t m" style="left:13.0px;top:648.60px;height:13.65px;line-height:13.65px;">Carvão</div>
<div class="t m" style="right:463.00px;top:648.60px;height:13.65px;line-height:13.65px;">0</div>
<div class="t m" style="right:370.00px;top:648.60px;height:13.65px;line-height:13.65px;">0</div>
<div class="t m" style="right:203.00px;top:648.60px;height:13.65px;line-height:13.65px;">0</div>
<div class="t m" style="right:110.00px;top:648.60px;height:13.65px;line-height:13.65px;">0</div>
<div class="t m" style="left:388.5px;top:648.60px;height:13.65px;line-height:13.65px;">-</div>
<div class="t m" style="left:648.5px;top:648.60px;height:13.65px;line-height:13.65px;">-</div>
<div class="hl" style="left:11px;top:661.60px;width:699px;height:1px;background:#b4b4b4"></div>
<div class="t m" style="left:13.0px;top:662.25px;height:13.65px;line-height:13.65px;">Enxofre</div>
<div class="t m" style="right:463.00px;top:662.25px;height:13.65px;line-height:13.65px;">221.783</div>
<div class="t m" style="right:370.00px;top:662.25px;height:13.65px;line-height:13.65px;">121.012</div>
<div class="t m" style="right:203.00px;top:662.25px;height:13.65px;line-height:13.65px;">1.459.200</div>
<div class="t m" style="right:110.00px;top:662.25px;height:13.65px;line-height:13.65px;">1.552.213</div>
<div class="t m red" style="left:388.5px;top:662.25px;height:13.65px;line-height:13.65px;">(45,4)</div>
<div class="t m" style="left:648.5px;top:662.25px;height:13.65px;line-height:13.65px;">6,4</div>
<div class="hl" style="left:11px;top:675.25px;width:699px;height:1px;background:#b4b4b4"></div>
<div class="t m" style="left:13.0px;top:675.90px;height:13.65px;line-height:13.65px;">Fosfato de cálcio</div>
<div class="t m" style="right:463.00px;top:675.90px;height:13.65px;line-height:13.65px;">0</div>
<div class="t m" style="right:370.00px;top:675.90px;height:13.65px;line-height:13.65px;">0</div>
<div class="t m" style="right:203.00px;top:675.90px;height:13.65px;line-height:13.65px;">71.919</div>
<div class="t m" style="right:110.00px;top:675.90px;height:13.65px;line-height:13.65px;">90.604</div>
<div class="t m" style="left:388.5px;top:675.90px;height:13.65px;line-height:13.65px;">-</div>
<div class="t m" style="left:648.5px;top:675.90px;height:13.65px;line-height:13.65px;">26,0</div>
<div class="hl" style="left:11px;top:688.90px;width:699px;height:1px;background:#b4b4b4"></div>
<div class="t m" style="left:13.0px;top:689.55px;height:13.65px;line-height:13.65px;">GLP</div>
<div class="t m" style="right:463.00px;top:689.55px;height:13.65px;line-height:13.65px;">4.574</div>
<div class="t m" style="right:370.00px;top:689.55px;height:13.65px;line-height:13.65px;">20.777</div>
<div class="t m" style="right:203.00px;top:689.55px;height:13.65px;line-height:13.65px;">494.689</div>
<div class="t m" style="right:110.00px;top:689.55px;height:13.65px;line-height:13.65px;">334.043</div>
<div class="t m" style="left:388.5px;top:689.55px;height:13.65px;line-height:13.65px;">354,2</div>
<div class="t m red" style="left:648.5px;top:689.55px;height:13.65px;line-height:13.65px;">(32,5)</div>
<div class="hl" style="left:11px;top:702.55px;width:699px;height:1px;background:#b4b4b4"></div>
<div class="t m" style="left:13.0px;top:703.20px;height:13.65px;line-height:13.65px;">Metanol</div>
<div class="t m" style="right:463.00px;top:703.20px;height:13.65px;line-height:13.65px;">27.472</div>
<div class="t m" style="right:370.00px;top:703.20px;height:13.65px;line-height:13.65px;">9.075</div>
<div class="t m" style="right:203.00px;top:703.20px;height:13.65px;line-height:13.65px;">154.030</div>
<div class="t m" style="right:110.00px;top:703.20px;height:13.65px;line-height:13.65px;">165.903</div>
<div class="t m red" style="left:388.5px;top:703.20px;height:13.65px;line-height:13.65px;">(67,0)</div>
<div class="t m" style="left:648.5px;top:703.20px;height:13.65px;line-height:13.65px;">7,7</div>
<div class="hl" style="left:11px;top:716.20px;width:699px;height:1px;background:#b4b4b4"></div>
<div class="pink" style="left:11px;top:717.20px;width:178px;height:13.15px"></div>
<div class="t m" style="left:13.0px;top:716.85px;height:13.65px;line-height:13.65px;">Minério de ferro, a granel</div>
<div class="t m" style="right:463.00px;top:716.85px;height:13.65px;line-height:13.65px;">0</div>
<div class="t m" style="right:370.00px;top:716.85px;height:13.65px;line-height:13.65px;">0</div>
<div class="t m" style="right:203.00px;top:716.85px;height:13.65px;line-height:13.65px;">0</div>
<div class="t m" style="right:110.00px;top:716.85px;height:13.65px;line-height:13.65px;">0</div>
<div class="t m" style="left:388.5px;top:716.85px;height:13.65px;line-height:13.65px;">-</div>
<div class="t m" style="left:648.5px;top:716.85px;height:13.65px;line-height:13.65px;">-</div>
<div class="hl" style="left:11px;top:729.85px;width:699px;height:1px;background:#b4b4b4"></div>
<div class="t m" style="left:13.0px;top:730.50px;height:13.65px;line-height:13.65px;">Nafta</div>
<div class="t m" style="right:463.00px;top:730.50px;height:13.65px;line-height:13.65px;">0</div>
<div class="t m" style="right:370.00px;top:730.50px;height:13.65px;line-height:13.65px;">0</div>
<div class="t m" style="right:203.00px;top:730.50px;height:13.65px;line-height:13.65px;">0</div>
<div class="t m" style="right:110.00px;top:730.50px;height:13.65px;line-height:13.65px;">0</div>
<div class="t m" style="left:388.5px;top:730.50px;height:13.65px;line-height:13.65px;">-</div>
<div class="t m" style="left:648.5px;top:730.50px;height:13.65px;line-height:13.65px;">-</div>
<div class="hl" style="left:11px;top:743.50px;width:699px;height:1px;background:#b4b4b4"></div>
<div class="t m" style="left:13.0px;top:744.15px;height:13.65px;line-height:13.65px;">Óleo diesel e gasóleo</div>
<div class="t m" style="right:463.00px;top:744.15px;height:13.65px;line-height:13.65px;">213.700</div>
<div class="t m" style="right:370.00px;top:744.15px;height:13.65px;line-height:13.65px;">338.989</div>
<div class="t m" style="right:203.00px;top:744.15px;height:13.65px;line-height:13.65px;">1.914.476</div>
<div class="t m" style="right:110.00px;top:744.15px;height:13.65px;line-height:13.65px;">2.049.855</div>
<div class="t m" style="left:388.5px;top:744.15px;height:13.65px;line-height:13.65px;">58,6</div>
<div class="t m" style="left:648.5px;top:744.15px;height:13.65px;line-height:13.65px;">7,1</div>
<div class="hl" style="left:11px;top:757.15px;width:699px;height:1px;background:#b4b4b4"></div>
<div class="t m" style="left:13.0px;top:757.80px;height:13.65px;line-height:13.65px;">Sal</div>
<div class="t m" style="right:463.00px;top:757.80px;height:13.65px;line-height:13.65px;">41.400</div>
<div class="t m" style="right:370.00px;top:757.80px;height:13.65px;line-height:13.65px;">48.573</div>
<div class="t m" style="right:203.00px;top:757.80px;height:13.65px;line-height:13.65px;">757.023</div>
<div class="t m" style="right:110.00px;top:757.80px;height:13.65px;line-height:13.65px;">776.027</div>
<div class="t m" style="left:388.5px;top:757.80px;height:13.65px;line-height:13.65px;">17,3</div>
<div class="t m" style="left:648.5px;top:757.80px;height:13.65px;line-height:13.65px;">2,5</div>
<div class="hl" style="left:11px;top:770.80px;width:699px;height:1px;background:#b4b4b4"></div>
<div class="t m" style="left:13.0px;top:771.45px;height:13.65px;line-height:13.65px;">Soda caustica</div>
<div class="t m" style="right:463.00px;top:771.45px;height:13.65px;line-height:13.65px;">109.535</div>
<div class="t m" style="right:370.00px;top:771.45px;height:13.65px;line-height:13.65px;">101.880</div>
<div class="t m" style="right:203.00px;top:771.45px;height:13.65px;line-height:13.65px;">783.411</div>
<div class="t m" style="right:110.00px;top:771.45px;height:13.65px;line-height:13.65px;">938.327</div>
<div class="t m red" style="left:388.5px;top:771.45px;height:13.65px;line-height:13.65px;">(7,0)</div>
<div class="t m" style="left:648.5px;top:771.45px;height:13.65px;line-height:13.65px;">19,8</div>
<div class="hl" style="left:11px;top:784.45px;width:699px;height:1px;background:#b4b4b4"></div>
<div class="t m" style="left:13.0px;top:785.10px;height:13.65px;line-height:13.65px;">Sulfato dissódico</div>
<div class="t m" style="right:463.00px;top:785.10px;height:13.65px;line-height:13.65px;">23.075</div>
<div class="t m" style="right:370.00px;top:785.10px;height:13.65px;line-height:13.65px;">30.644</div>
<div class="t m" style="right:203.00px;top:785.10px;height:13.65px;line-height:13.65px;">413.294</div>
<div class="t m" style="right:110.00px;top:785.10px;height:13.65px;line-height:13.65px;">413.406</div>
<div class="t m" style="left:388.5px;top:785.10px;height:13.65px;line-height:13.65px;">32,8</div>
<div class="t m" style="left:648.5px;top:785.10px;height:13.65px;line-height:13.65px;">0,0</div>
<div class="hl" style="left:11px;top:798.10px;width:699px;height:1px;background:#b4b4b4"></div>
<div class="t m" style="left:13.0px;top:798.75px;height:13.65px;line-height:13.65px;">Trigo (grãos e farelo)</div>
<div class="t m" style="right:463.00px;top:798.75px;height:13.65px;line-height:13.65px;">107.262</div>
<div class="t m" style="right:370.00px;top:798.75px;height:13.65px;line-height:13.65px;">131.553</div>
<div class="t m" style="right:203.00px;top:798.75px;height:13.65px;line-height:13.65px;">936.573</div>
<div class="t m" style="right:110.00px;top:798.75px;height:13.65px;line-height:13.65px;">1.029.098</div>
<div class="t m" style="left:388.5px;top:798.75px;height:13.65px;line-height:13.65px;">22,6</div>
<div class="t m" style="left:648.5px;top:798.75px;height:13.65px;line-height:13.65px;">9,9</div>
<div class="hl" style="left:11px;top:811.75px;width:699px;height:1px;background:#b4b4b4"></div>
<div class="stbg" style="left:11px;top:813.25px;width:700px;height:12.65px"></div>
<div class="t stl" style="left:13.0px;top:813.15px;height:13.65px;line-height:13.65px;">Sub-Total Desembarques</div>
<div class="t st" style="right:464.50px;top:813.15px;height:13.65px;line-height:13.65px;">1.742.787</div>
<div class="t st" style="right:371.50px;top:813.15px;height:13.65px;line-height:13.65px;">1.768.592</div>
<div class="t st" style="right:204.50px;top:813.15px;height:13.65px;line-height:13.65px;">13.113.872</div>
<div class="t st" style="right:111.50px;top:813.15px;height:13.65px;line-height:13.65px;">13.270.849</div>
<div class="t stv" style="left:388.5px;top:813.15px;height:13.65px;line-height:13.65px;">1,5</div>
<div class="t stv" style="left:648.5px;top:813.15px;height:13.65px;line-height:13.65px;">1,2</div>
<div class="hl" style="left:11px;top:825.40px;width:699px;height:1px;background:#b4b4b4"></div>
<div class="t m" style="left:13.0px;top:826.05px;height:13.65px;line-height:13.65px;">Outros</div>
<div class="t m" style="right:463.00px;top:826.05px;height:13.65px;line-height:13.65px;">2.532.391</div>
<div class="t m" style="right:370.00px;top:826.05px;height:13.65px;line-height:13.65px;">2.607.104</div>
<div class="t m" style="right:203.00px;top:826.05px;height:13.65px;line-height:13.65px;">22.315.147</div>
<div class="t m" style="right:110.00px;top:826.05px;height:13.65px;line-height:13.65px;">22.793.809</div>
<div class="t m" style="left:388.5px;top:826.05px;height:13.65px;line-height:13.65px;">3,0</div>
<div class="t m" style="left:648.5px;top:826.05px;height:13.65px;line-height:13.65px;">2,1</div>
<div class="box orange" style="left:10px;top:839.55px;width:701px;height:23.50px"></div>
<div class="t totl" style="left:13.0px;top:840.85px;height:23.50px;line-height:23.50px;">Total Desembarques</div>
<div class="t tot" style="right:452.50px;top:839.05px;height:23.50px;line-height:23.50px;">4.275.178</div>
<div class="t tot" style="right:359.20px;top:839.05px;height:23.50px;line-height:23.50px;">4.375.696</div>
<div class="t tot" style="right:192.10px;top:839.05px;height:23.50px;line-height:23.50px;">35.429.019</div>
<div class="t tot" style="right:99.00px;top:839.05px;height:23.50px;line-height:23.50px;">36.064.658</div>
<div class="t totv" style="left:388.5px;top:840.05px;height:23.50px;line-height:23.50px;">2,4</div>
<div class="t totv" style="left:648.5px;top:840.05px;height:23.50px;line-height:23.50px;">1,8</div>
<div class="vs vo" style="left:281.5px;top:841.55px;height:19.50px"></div>
<div class="vs vo" style="left:374.6px;top:841.55px;height:19.50px"></div>
<div class="vs vo" style="left:542.3px;top:841.55px;height:19.50px"></div>
<div class="vs vo" style="left:634.7px;top:841.55px;height:19.50px"></div>
<div class="box green" style="left:10px;top:876.00px;width:701px;height:23.00px"></div>
<div class="t tgl" style="left:13.0px;top:876.30px;height:23.00px;line-height:23.00px;">Total Geral</div>
<div class="t tg" style="right:463.50px;top:876.30px;height:23.00px;line-height:23.00px;">15.961.404</div>
<div class="t tg" style="right:371.00px;top:876.30px;height:23.00px;line-height:23.00px;">16.547.055</div>
<div class="t tg" style="right:203.00px;top:876.30px;height:23.00px;line-height:23.00px;">137.432.504</div>
<div class="t tg" style="right:110.00px;top:876.30px;height:23.00px;line-height:23.00px;">138.730.379</div>
<div class="t tgv" style="left:388.5px;top:876.30px;height:23.00px;line-height:23.00px;">3,7</div>
<div class="t tgv" style="left:648.5px;top:876.30px;height:23.00px;line-height:23.00px;">0,9</div>
<div class="vs vg" style="left:281.5px;top:879.50px;height:16.00px"></div>
<div class="vs vg" style="left:374.6px;top:879.50px;height:16.00px"></div>
<div class="vs vg" style="left:542.3px;top:879.50px;height:16.00px"></div>
<div class="vs vg" style="left:634.7px;top:879.50px;height:16.00px"></div>
<div class="hl" style="left:11px;top:911.00px;width:699px;height:3px;background:#f0a664"></div>
</div>
</body></html>
